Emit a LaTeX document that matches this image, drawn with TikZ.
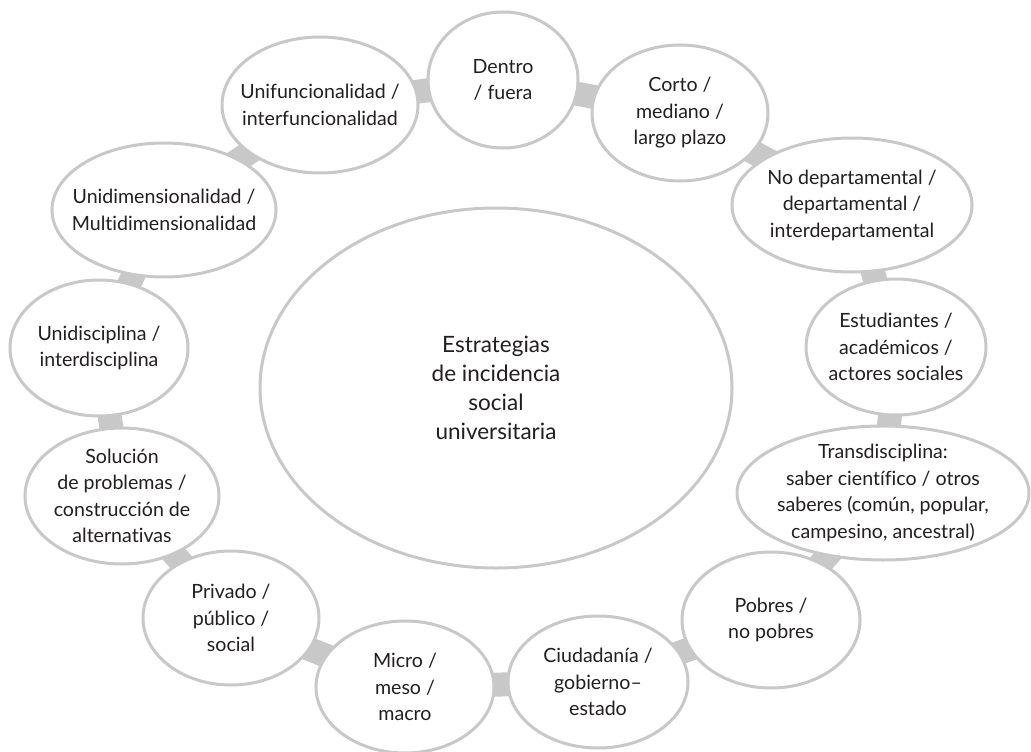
\documentclass[tikz,border=0pt]{standalone}
\usepackage{fontspec}
\setmainfont{Lato}[Ligatures={TeX,NoCommon}]
\usetikzlibrary{shapes.geometric, backgrounds}
\definecolor{ringgray}{RGB}{200,200,200}
\definecolor{inkblack}{RGB}{35,31,32}

\begin{document}
\begin{tikzpicture}[x=1pt, y=-1pt]
        \tikzstyle{opt}=[draw=ringgray, ellipse, line width=3pt, fill=white, inner sep=0pt];
        \tikzstyle{lbl}=[align=center, text=inkblack, font=\fontsize{19.6}{26.5}\selectfont];
        \tikzstyle{bar}=[draw=ringgray, line width=24pt];
        \useasboundingbox (0,0) rectangle (1031,752);
        \node[opt, minimum width=472, minimum height=360, label={[lbl, font=\fontsize{22.5}{29}\selectfont]center:Estrategias\\de incidencia\\social\\universitaria}] (main) at (496,388) {};
        \node[opt, minimum width=150, minimum height=136, label={[lbl]center:Dentro\\/ fuera}] (dentro) at (503,80) {};
        \node[opt, minimum width=176, minimum height=136, label={[lbl]center:Corto /\\mediano /\\largo plazo}] (corto) at (680,113) {};
        \node[opt, minimum width=240, minimum height=134, label={[lbl]center:No departamental /\\departamental /\\interdepartamental}] (nodep) at (852,205) {};
        \node[opt, minimum width=180, minimum height=136, label={[lbl]center:Estudiantes /\\académicos /\\actores sociales}] (estud) at (896,347) {};
        \node[opt, minimum width=292, minimum height=134, label={[lbl]center:Transdisciplina:\\saber científico / otros\\saberes (común, popular,\\campesino, ancestral)}] (trans) at (883,493) {};
        \node[opt, minimum width=178, minimum height=136, label={[lbl]center:Pobres /\\no pobres}] (pobres) at (771,620) {};
        \node[opt, minimum width=180, minimum height=132, label={[lbl]center:Ciudadanía /\\gobierno--\\estado}] (ciudad) at (598,682) {};
        \node[opt, minimum width=178, minimum height=132, label={[lbl]center:Micro /\\meso /\\macro}] (micro) at (405,687) {};
        \node[opt, minimum width=176, minimum height=134, label={[lbl]center:Privado /\\público /\\social}] (privado) at (231,618) {};
        \node[opt, minimum width=194, minimum height=136, label={[lbl]center:Solución\\de problemas /\\construcción de\\alternativas}] (solucion) at (122,496) {};
        \node[opt, minimum width=178, minimum height=136, label={[lbl]center:Unidisciplina /\\interdisciplina}] (unidisc) at (99,348) {};
        \node[opt, minimum width=224, minimum height=134, label={[lbl]center:Unidimensionalidad /\\Multidimensionalidad}] (unidim) at (164,210) {};
        \node[opt, minimum width=196, minimum height=136, label={[lbl]center:Unifuncionalidad /\\interfuncionalidad}] (unifunc) at (320,105) {};

        \begin{scope}[on background layer]
        \path[bar]
        (dentro.center) edge (corto.center)
        (corto.center) edge (nodep.center)
        (nodep.center) edge (estud.center)
        (estud.center) edge (trans.center)
        (trans.center) edge (pobres.center)
        (pobres.center) edge (ciudad.center)
        (ciudad.center) edge (micro.center)
        (micro.center) edge (privado.center)
        (privado.center) edge (solucion.center)
        (solucion.center) edge (unidisc.center)
        (unidisc.center) edge (unidim.center)
        (unidim.center) edge (unifunc.center)
        (unifunc.center) edge (dentro.center);
        \end{scope}
      \end{tikzpicture}
\end{document}
